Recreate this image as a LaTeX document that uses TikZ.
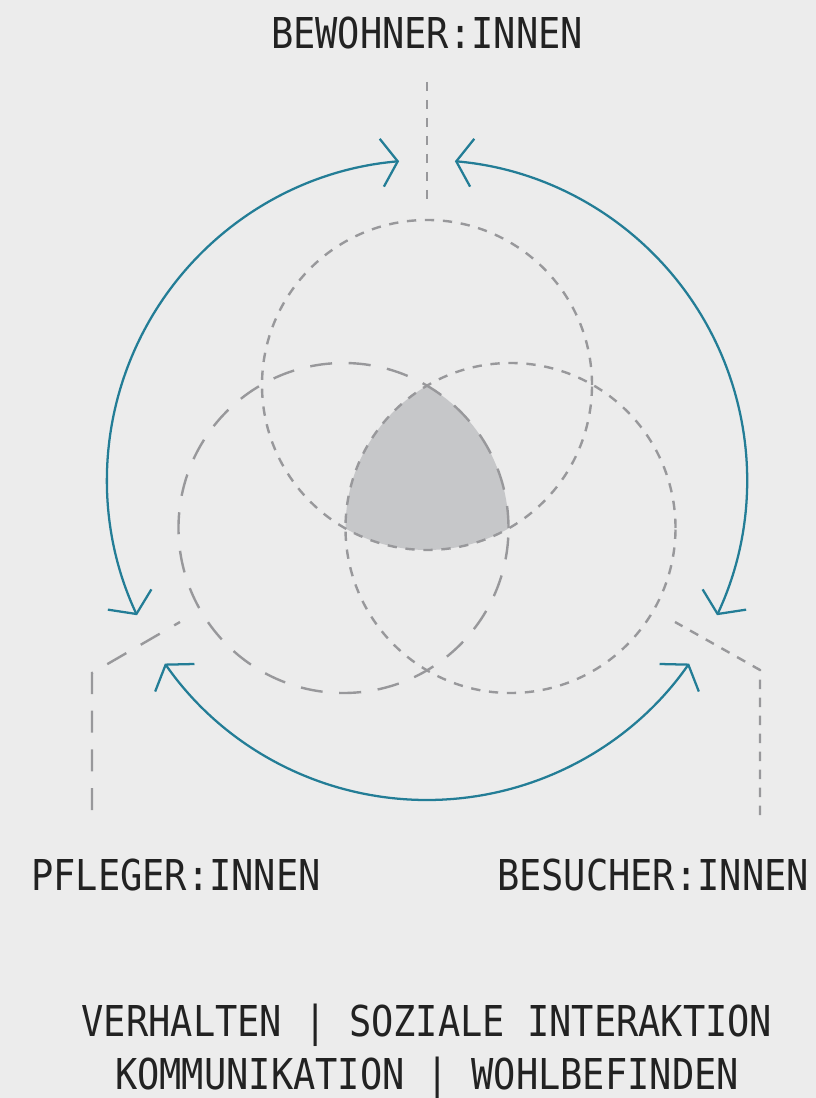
\documentclass[tikz,border=0pt]{standalone}
\usepackage{fontspec}
\newfontfamily\labelfont[FakeStretch=0.87]{DejaVu Sans Mono}
\usetikzlibrary{arrows.meta}

\definecolor{bgcol}{HTML}{ECECEC}
\definecolor{flowcol}{RGB}{35,125,150}
\definecolor{ringcol}{HTML}{98989B}
\definecolor{coregray}{HTML}{C6C7C9}
\definecolor{textcol}{HTML}{222222}

\tikzset{
  flow/.style={draw=flowcol, line width=1.7pt,
    {Straight Barb[length=12pt,width=36pt]}-{Straight Barb[length=12pt,width=36pt]}},
  shortdash/.style={draw=ringcol, line width=1.8pt, dash pattern=on 7pt off 6.5pt},
  longdash/.style={draw=ringcol, line width=1.8pt, dash pattern=on 16.5pt off 12.5pt},
  role/.style={font=\labelfont\fontsize{31.9}{38}\selectfont, text=textcol, inner sep=0pt}
}

\begin{document}
\begin{tikzpicture}[x=0.75pt, y=0.75pt]
	% Background and page size
	\fill[bgcol] (-427,-618) rectangle (389,480);
	\useasboundingbox (-427,-618) rectangle (389,480);
	
	% Overlap of the three groups
	\begin{scope}
		\clip (-83.5,-48) circle (165);
		\clip (83.5,-48) circle (165);
		\fill[coregray] (0,95) circle (165);
	\end{scope}
	
	% Three groups
	\draw[shortdash] (0,95) circle (165);
	\draw[longdash] (-83.5,-48) circle (165);
	\draw[shortdash] (83.5,-48) circle (165);
	
	% Exchange between groups
	\foreach \a in {95,215,335}
	\draw[flow] (\a:320) arc[start angle=\a, delta angle=110, radius=320];
	
	% Labels
	\node[role] (bew) at (0,447) {BEWOHNER:INNEN};
	\node[role] (pfl) at (-251,-395) {PFLEGER:INNEN};
	\node[role] (bes) at (226,-395) {BESUCHER:INNEN};
	\node[role, align=center, font=\labelfont\fontsize{31.9}{39.75}\selectfont] (themes) at (0,-571.5)
		{VERHALTEN | SOZIALE INTERAKTION\\KOMMUNIKATION | WOHLBEFINDEN};
	
	% Pointers from labels to circles
	\coordinate (bewtop) at (0,398);
	\coordinate (bewend) at (0,280);
	\coordinate (pflend) at (-247,-142);
	\coordinate (pflknee) at (-335,-193);
	\coordinate (pflfoot) at (-335,-330);
	\coordinate (besend) at (248,-142);
	\coordinate (besknee) at (333,-190);
	\coordinate (besfoot) at (333,-335);
	
	\draw[shortdash] (bewtop) -- (bewend);
	\draw[longdash] (pflfoot) -- (pflknee) -- (pflend);
	\draw[shortdash] (besfoot) -- (besknee) -- (besend);
\end{tikzpicture}
\end{document}
